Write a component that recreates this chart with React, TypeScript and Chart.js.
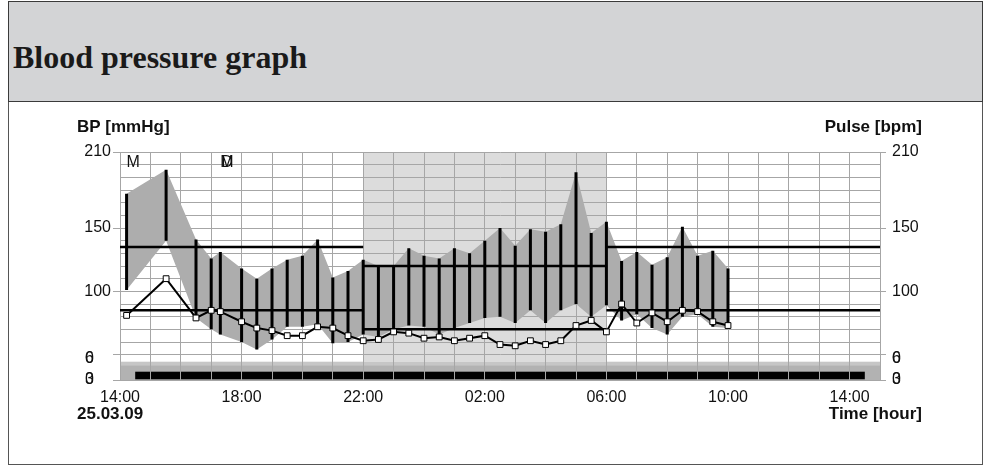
import React, { useEffect, useRef } from 'react';
import { Chart, registerables } from 'chart.js';

Chart.register(...registerables);

// ---------- data ----------
const axisStart = '14:00';
const axisHours = 25;
const xLabelHours = [0, 4, 8, 12, 16, 20, 24];

const measureTimes = ['14:13', '15:31', '16:30', '17:00', '17:18', '18:00', '18:30', '19:00', '19:30', '20:00', '20:30', '21:00', '21:30', '22:00', '22:30', '23:00', '23:30', '00:00', '00:30', '01:00', '01:30', '02:00', '02:30', '03:00', '03:30', '04:00', '04:30', '05:00', '05:30', '06:00', '06:30', '07:00', '07:30', '08:00', '08:30', '09:00', '09:30', '10:00'];
const systolic = [177, 196, 141, 126, 131, 118, 110, 118, 125, 128, 141, 111, 116, 125, 120, 120, 134, 128, 126, 134, 130, 140, 150, 136, 149, 147, 153, 194, 146, 155, 124, 131, 121, 127, 151, 128, 132, 118];
const diastolic = [101, 140, 79, 70, 66, 60, 54, 62, 72, 72, 74, 59, 60, 66, 64, 70, 73, 72, 66, 71, 75, 79, 80, 75, 85, 75, 85, 90, 80, 89, 77, 82, 71, 66, 80, 82, 72, 71];
const pulse = [81, 110, 79, 85, 84, 76, 71, 69, 65, 65, 72, 71, 65, 61, 62, 68, 67, 63, 64, 61, 63, 65, 58, 57, 61, 58, 61, 73, 77, 68, 90, 75, 83, 76, 85, 84, 76, 73];

const limitFrom = ['14:00', '22:00', '06:00'];
const limitTo = ['22:00', '06:00', '15:00'];
const limitSys = [135, 120, 135];
const limitDia = [85, 70, 85];

const nightStart = '22:00';
const nightEnd = '06:00';
const activityStart = '14:30';
const activityEnd = '14:30';

const markerTimes = ['14:26', '17:31', '17:31'];
const markerLabels = ['M', 'D', 'M'];

const yMin = 30;
const yMax = 210;
const yGridValues = [30, 50, 60, 70, 80, 90, 100, 110, 120, 130, 140, 150, 160, 170, 180, 190, 200, 210];
const yLabelValues = [100, 150, 210];
const lowLabelValues = [50, 30];
const lowLabelGlyphs = [['6', '0'], ['0', '3']];

// ---------- helpers ----------
const startH = parseInt(axisStart.split(':')[0], 10);
function toHours(t: string): number {
  const [h, m] = t.split(':').map((s) => parseInt(s, 10));
  let v = h + m / 60 - startH;
  if (v < 0) v += 24;
  return v;
}
function hourLabel(v: number): string {
  const h = (startH + v) % 24;
  return (h < 10 ? '0' : '') + h + ':00';
}

const FONT = '"Liberation Sans", Arial, sans-serif';
const GRID = '#a6a6a6';
const AREA = '#adadad';

const pts = (vals: number[]) => measureTimes.map((t, i) => ({ x: toHours(t), y: vals[i] }));
const barPts = measureTimes.flatMap((t, i) => [
  { x: toHours(t), y: systolic[i] },
  { x: toHours(t), y: diastolic[i] },
  { x: toHours(t), y: null as any },
]);
const limitPts = (vals: number[]) =>
  limitFrom.flatMap((f, i) => {
    const a = toHours(f);
    let b = toHours(limitTo[i]);
    if (b <= a) b += 24;
    return [
      { x: a, y: vals[i] },
      { x: b, y: vals[i] },
      { x: b, y: null as any },
    ];
  });

const bgPlugin = {
  id: 'bgBands',
  beforeDraw(chart: any) {
    const { ctx, chartArea: a, scales } = chart;
    const x = scales.x;
    ctx.save();
    const bandTop = a.bottom - 18.3;
    // night shading
    const n0 = x.getPixelForValue(toHours(nightStart));
    const n1 = x.getPixelForValue(toHours(nightEnd));
    ctx.fillStyle = '#dcdcdc';
    ctx.fillRect(n0, a.top, n1 - n0, bandTop - a.top);
    // bottom band
    ctx.fillStyle = '#c6c6c6';
    ctx.fillRect(a.left, bandTop, a.right - a.left, 3.5);
    ctx.fillStyle = '#b2b2b2';
    ctx.fillRect(a.left, bandTop + 3.5, a.right - a.left, a.bottom - bandTop - 3.5);
    // activity bar
    const s = toHours(activityStart);
    let e = toHours(activityEnd);
    if (e <= s) e += 24;
    const b0 = x.getPixelForValue(s);
    const b1 = x.getPixelForValue(e);
    ctx.fillStyle = '#000';
    ctx.fillRect(b0, a.bottom - 8.3, b1 - b0, 7.6);
    ctx.restore();
  },
  afterDraw(chart: any) {
    const { ctx, chartArea: a, scales } = chart;
    const x = scales.x, y = scales.y;
    ctx.save();
    ctx.fillStyle = '#111';
    ctx.textBaseline = 'middle';
    // event markers
    ctx.font = `16px ${FONT}`;
    ctx.textAlign = 'center';
    markerTimes.forEach((t, i) => {
      ctx.fillText(markerLabels[i], x.getPixelForValue(toHours(t)), a.top + 11);
    });
    // low overlapped tick labels
    ctx.textAlign = 'left';
    lowLabelValues.forEach((v, i) => {
      const py = y.getPixelForValue(v) + (v === 50 ? 4 : 0);
      lowLabelGlyphs[i].forEach((g) => {
        ctx.fillText(g, 85, py);
        ctx.fillText(g, 892, py);
      });
    });
    // axis titles
    ctx.font = `bold 17px ${FONT}`;
    ctx.textAlign = 'left';
    ctx.fillText('BP [mmHg]', 77, 25);
    ctx.fillText('25.03.09', 77, 312);
    ctx.textAlign = 'right';
    ctx.fillText('Pulse [bpm]', 922, 25);
    ctx.fillText('Time [hour]', 922, 312);
    ctx.restore();
  },
};

const yTicks = (padding: number) => ({
  padding,
  autoSkip: false,
  color: '#111',
  font: { family: FONT, size: 16 },
  callback: (v: any) => (yLabelValues.includes(v) ? String(v) : ''),
});
const tickColor = (c: any) =>
  c.tick && (yLabelValues.includes(c.tick.value) || lowLabelValues.includes(c.tick.value)) ? GRID : 'transparent';

export default function App() {
  const ref = useRef<HTMLCanvasElement>(null);
  useEffect(() => {
    const chart = new Chart(ref.current as HTMLCanvasElement, {
      type: 'line',
      data: {
        datasets: [
          {
            label: 'Pulse',
            data: pts(pulse),
            yAxisID: 'y2',
            borderColor: '#000',
            borderWidth: 2,
            pointStyle: 'rect',
            pointRadius: 4.1,
            pointBackgroundColor: '#fff',
            pointBorderColor: '#000',
            pointBorderWidth: 1,
            fill: false,
            order: 0,
          },
          {
            label: 'BP range',
            data: barPts,
            borderColor: '#000',
            borderWidth: 3,
            borderCapStyle: 'butt',
            pointRadius: 0,
            spanGaps: false,
            fill: false,
            order: 1,
          },
          {
            label: 'Limit systolic',
            data: limitPts(limitSys),
            borderColor: '#000',
            borderWidth: 2.5,
            pointRadius: 0,
            spanGaps: false,
            fill: false,
            order: 2,
          },
          {
            label: 'Limit diastolic',
            data: limitPts(limitDia),
            borderColor: '#000',
            borderWidth: 2.5,
            pointRadius: 0,
            spanGaps: false,
            fill: false,
            order: 2,
          },
          {
            label: 'Systolic',
            data: pts(systolic),
            borderColor: 'transparent',
            borderWidth: 0,
            pointRadius: 0,
            backgroundColor: AREA,
            fill: '+1',
            order: 3,
          },
          {
            label: 'Diastolic',
            data: pts(diastolic),
            borderColor: 'transparent',
            borderWidth: 0,
            pointRadius: 0,
            fill: false,
            order: 3,
          },
        ] as any,
      },
      options: {
        responsive: false,
        animation: false,
        events: [],
        layout: { padding: { top: 50, left: 0, right: 0, bottom: 0 } },
        plugins: { legend: { display: false }, tooltip: { enabled: false }, title: { display: false } },
        scales: {
          x: {
            type: 'linear',
            min: 0,
            max: axisHours,
            afterBuildTicks: (s: any) => {
              s.ticks = Array.from({ length: axisHours + 1 }, (_, i) => ({ value: i }));
            },
            afterFit: (s: any) => {
              s.height = 85;
            },
            grid: { color: GRID, lineWidth: 1, drawTicks: false },
            border: { color: GRID },
            ticks: {
              padding: 8,
              autoSkip: false,
              maxRotation: 0,
              color: '#111',
              font: { family: FONT, size: 16 },
              callback: (v: any) => (xLabelHours.includes(v) ? hourLabel(v) : ''),
            },
          },
          y: {
            position: 'left',
            min: yMin,
            max: yMax,
            afterBuildTicks: (s: any) => {
              s.ticks = yGridValues.map((v) => ({ value: v }));
            },
            afterFit: (s: any) => {
              s.width = 120;
            },
            grid: { color: GRID, lineWidth: 1, tickLength: 7, tickColor },
            border: { color: GRID },
            ticks: yTicks(2),
          },
          y2: {
            position: 'right',
            min: yMin,
            max: yMax,
            afterBuildTicks: (s: any) => {
              s.ticks = yGridValues.map((v) => ({ value: v }));
            },
            afterFit: (s: any) => {
              s.width = 110;
            },
            grid: { drawOnChartArea: false, lineWidth: 1, tickLength: 6, tickColor },
            border: { color: GRID },
            ticks: yTicks(6),
          },
        },
      } as any,
      plugins: [bgPlugin],
    });
    return () => chart.destroy();
  }, []);

  return (
    <div style={{ position: 'fixed', left: 0, top: 0, width: 990, height: 469, background: '#fff' }}>
      <div
        style={{
          position: 'absolute',
          left: 8,
          top: 1,
          width: 973,
          height: 99,
          background: '#d3d4d6',
          border: '1px solid #3a3a3a',
        }}
      />
      <div
        style={{
          position: 'absolute',
          left: 13,
          top: 41,
          fontFamily: '"Liberation Serif", "Times New Roman", serif',
          fontWeight: 'bold',
          fontSize: 32,
          lineHeight: '32px',
          color: '#1a1a1a',
          whiteSpace: 'nowrap',
        }}
      >
        Blood pressure graph
      </div>
      <div
        style={{
          position: 'absolute',
          left: 8,
          top: 102,
          width: 973,
          height: 362,
          borderLeft: '1px solid #555',
          borderRight: '1px solid #555',
          borderBottom: '1px solid #555',
        }}
      />
      <canvas
        ref={ref}
        width={990}
        height={363}
        style={{ position: 'absolute', left: 0, top: 102, width: 990, height: 363 }}
      />
    </div>
  );
}
